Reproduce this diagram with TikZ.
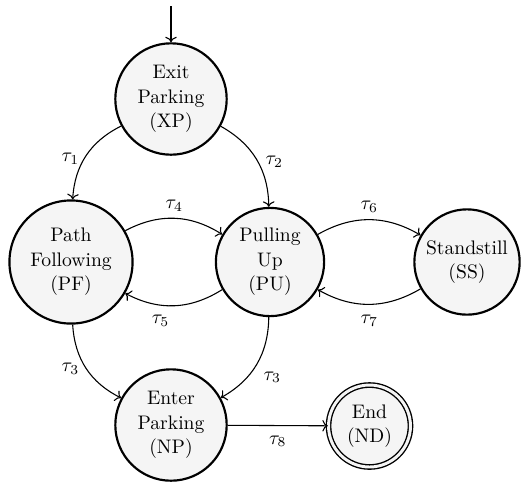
\documentclass[tikz,border=0pt]{standalone}
\usetikzlibrary{arrows.meta}
\begin{document}
\begin{tikzpicture}[x=0.51pt,y=-0.51pt,
  state/.style={circle,draw=black,line width=1.1pt,fill=black!4,align=center,inner sep=1pt,
    font=\fontsize{10}{12.5}\selectfont},
  final/.style={circle,draw=black,line width=0.7pt,double=black!4,double distance=1.5pt,fill=black!4,align=center,inner sep=1pt,
    font=\fontsize{10}{12.5}\selectfont},
  trans/.style={->,line width=0.55pt},
  lbl/.style={font=\fontsize{10}{12}\selectfont}]
\useasboundingbox (0,0) rectangle (521,483);
\node[state,minimum size=56.8pt] (XP) at (171,99) {Exit\\Parking\\(XP)};
\node[state,minimum size=62.8pt] (PF) at (71,262) {Path\\Following\\(PF)};
\node[state,minimum size=55.2pt] (PU) at (270,262) {Pulling\\Up\\(PU)};
\node[state,minimum size=53.7pt] (SS) at (467,262) {Standstill\\(SS)};
\node[state,minimum size=56.8pt] (NP) at (171,425) {Enter\\Parking\\(NP)};
\node[final,minimum size=41.8pt] (ND) at (369.5,426) {End\\(ND)};
\coordinate (start) at (171,6);
\draw[trans] (start) -- (XP);
\path[trans] (XP) edge[bend right=30] node[lbl,left,yshift=-1.5pt] {$\tau_1$} (PF)
             (XP) edge[bend left=30] node[lbl,right,xshift=1pt,yshift=-1pt] {$\tau_2$} (PU)
             (PF) edge[bend left=30] node[lbl,above] {$\tau_4$} (PU)
             (PU) edge[bend left=30] node[lbl,below,xshift=-7pt,yshift=-1pt] {$\tau_5$} (PF)
             (PU) edge[bend left=30] node[lbl,above] {$\tau_6$} (SS)
             (SS) edge[bend left=30] node[lbl,below,yshift=-2pt] {$\tau_7$} (PU)
             (PF) edge[bend right=30] node[lbl,left] {$\tau_3$} (NP)
             (PU) edge[bend left=30] node[lbl,right,yshift=-6.5pt] {$\tau_3$} (NP)
             (NP) edge node[lbl,below,yshift=-1.5pt] {$\tau_8$} (ND);
\end{tikzpicture}
\end{document}
